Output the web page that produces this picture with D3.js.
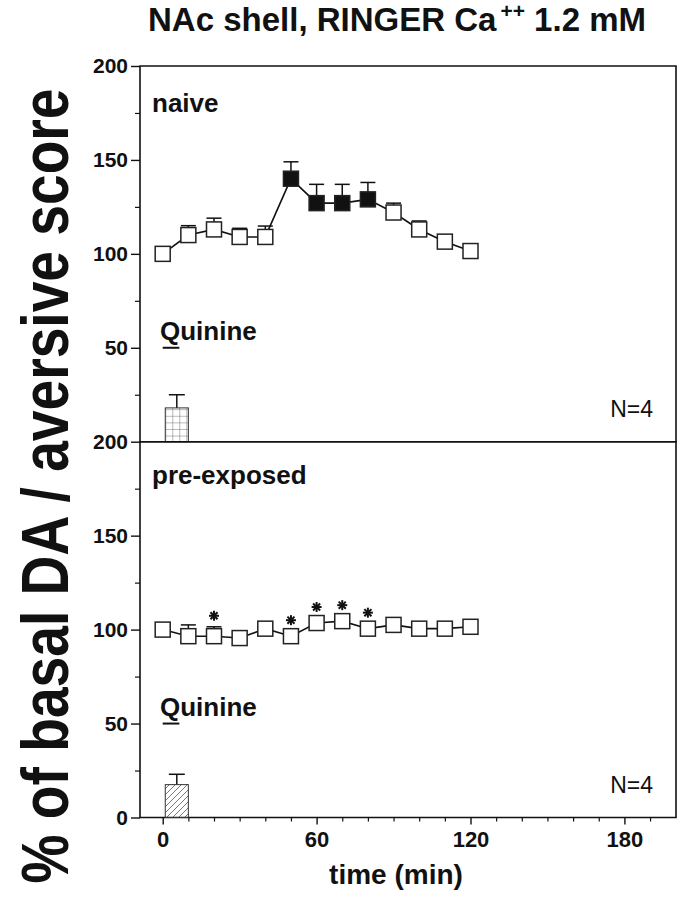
<!DOCTYPE html>
<html>
<head>
<meta charset="utf-8">
<script src="https://cdn.jsdelivr.net/npm/d3@7"></script>
<style>
  html, body { margin: 0; padding: 0; background: #fff; }
  svg { display: block; font-family: "Liberation Sans", Arial, Helvetica, sans-serif; }
</style>
</head>
<body>
<svg id="chart" width="683" height="899"></svg>
<script>
// ---------------- data ----------------
const times = [0, 10, 20, 30, 40, 50, 60, 70, 80, 90, 100, 110, 120];
const naiveMean = [100, 110, 113, 109, 109, 140, 127, 127, 129, 122, 113, 106.5, 101.5];
const naiveSem  = [0, 5, 6, 4.6, 5.8, 9, 10, 10, 9, 5, 4.5, 0, 0];
const naiveFilled = [false, false, false, false, false, true, true, true, true, false, false, false, false];
const preMean = [100, 96.5, 96.5, 95.5, 100.5, 96.5, 103.5, 104.5, 100.5, 102.5, 100.5, 100.5, 101.5];
const preSem  = [0, 6, 5, 0, 0, 0, 0, 0, 0, 0, 0, 0, 0];
const preSignificant = [20, 50, 60, 70, 80];
const aversiveScore = [18, 17.5];      // naive, pre-exposed
const aversiveSem   = [7, 5.5];
const xTickLabels = [0, 60, 120, 180];
const yTickLabelsTop = [50, 100, 150, 200];
const yTickLabelsBottom = [0, 50, 100, 150, 200];
const yMinorTicks = [25, 75, 125, 175];
const panelNames = ["naive", "pre-exposed"];
const nLabels = ["N=4", "N=4"];

// ---------------- layout ----------------
const svg = d3.select("#chart");
const axisX0 = 140, plotRight = 676;
const x = d3.scaleLinear().domain([0, 200]).range([162.7, 675.7]);
const yTop = d3.scaleLinear().domain([0, 200]).range([441.7, 66]);
const yBot = d3.scaleLinear().domain([0, 200]).range([817.5, 441.7]);
const barSpan = [1, 10];       // minutes covered by the aversive score bar
const quinineSpan = [0, 6.5];  // quinine application marker
const sq = 15;

// patterns
const defs = svg.append("defs");
const grid = defs.append("pattern").attr("id", "gridPat")
  .attr("patternUnits", "userSpaceOnUse").attr("width", 7).attr("height", 6.6)
  .attr("x", x(barSpan[0])).attr("y", 0);
grid.append("path").attr("d", "M0,0 V6.6 M0,0 H7")
  .attr("stroke", "#666").attr("stroke-width", 0.9).attr("fill", "none");
const diag = defs.append("pattern").attr("id", "diagPat")
  .attr("patternUnits", "userSpaceOnUse").attr("width", 6).attr("height", 6);
diag.append("path").attr("d", "M-1,1 L1,-1 M0,6 L6,0 M5,7 L7,5")
  .attr("stroke", "#555").attr("stroke-width", 0.8).attr("fill", "none");

// ---------------- title ----------------
const title = svg.append("text").attr("x", 148).attr("y", 31)
  .attr("font-size", 33).attr("font-weight", "bold").attr("fill", "#111");
title.append("tspan").text("NAc shell, RINGER Ca");
title.append("tspan").attr("font-size", 21).attr("dy", -13).attr("dx", 4).text("++");
title.append("tspan").attr("dy", 13).text(" 1.2 mM");

// y axis title (glyphs stretched perpendicular to the baseline, as in the scan)
svg.append("text")
  .attr("transform", "translate(68,486) rotate(-90) scale(1,1.2)")
  .attr("text-anchor", "middle")
  .attr("font-size", 55).attr("font-weight", "bold").attr("fill", "#111")
  .attr("textLength", 795).attr("lengthAdjust", "spacingAndGlyphs")
  .text("% of basal DA / aversive score");

// x axis title
svg.append("text").attr("x", 396).attr("y", 884)
  .attr("text-anchor", "middle").attr("font-size", 28).attr("font-weight", "bold")
  .attr("fill", "#111").text("time (min)");

// ---------------- panels ----------------
function drawPanel(y, mean, sem, filled, idx, showX) {
  const g = svg.append("g");
  const patId = idx === 0 ? "gridPat" : "diagPat";

  // frame
  g.append("path")
    .attr("d", `M${axisX0},${y(200)} H${plotRight} V${y(0)} H${axisX0} Z`)
    .attr("fill", "none").attr("stroke", "#111").attr("stroke-width", 1.6);

  // y axis major ticks + labels
  const yAx = d3.axisLeft(y).tickValues(idx === 0 ? yTickLabelsTop : yTickLabelsBottom)
    .tickSize(9).tickPadding(3).tickSizeOuter(0);
  const ya = g.append("g").attr("transform", `translate(${axisX0},0)`).call(yAx);
  ya.select(".domain").remove();
  ya.selectAll("line").attr("stroke", "#111").attr("stroke-width", 1.4);
  ya.selectAll("text").attr("font-size", 21).attr("font-weight", "bold")
    .attr("fill", "#111").attr("font-family", "Liberation Sans, Arial, sans-serif");
  const yMin = d3.axisLeft(y).tickValues(yMinorTicks).tickSize(5).tickFormat("");
  const ym = g.append("g").attr("transform", `translate(${axisX0},0)`).call(yMin);
  ym.select(".domain").remove();
  ym.selectAll("line").attr("stroke", "#111").attr("stroke-width", 1.2);

  if (showX) {
    const xMinor = d3.range(10, 200, 10).filter(d => !xTickLabels.includes(d));
    const xm = g.append("g").attr("transform", `translate(0,${y(0)})`)
      .call(d3.axisBottom(x).tickValues(xMinor).tickSize(4).tickFormat(""));
    xm.select(".domain").remove();
    xm.selectAll("line").attr("stroke", "#111").attr("stroke-width", 1.2);
    const xa = g.append("g").attr("transform", `translate(0,${y(0)})`)
      .call(d3.axisBottom(x).tickValues(xTickLabels).tickSize(7).tickPadding(7));
    xa.select(".domain").remove();
    xa.selectAll("line").attr("stroke", "#111").attr("stroke-width", 1.4);
    xa.selectAll("text").attr("font-size", 22).attr("font-weight", "bold")
      .attr("fill", "#111").attr("font-family", "Liberation Sans, Arial, sans-serif");
  }

  // panel label
  g.append("text").attr("x", 152).attr("y", y(200) + (idx === 0 ? 46 : 42))
    .attr("font-size", 26).attr("font-weight", "bold").attr("fill", "#111")
    .text(panelNames[idx]);

  // N label
  g.append("text").attr("x", 653).attr("y", y(0) - 25).attr("text-anchor", "end")
    .attr("font-size", 23).attr("fill", "#111").text(nLabels[idx]);

  // quinine label + dash
  g.append("text").attr("x", 160).attr("y", y(50) - 8)
    .attr("font-size", 26).attr("font-weight", "bold").attr("fill", "#111").text("Quinine");
  g.append("line").attr("x1", x(quinineSpan[0])).attr("x2", x(quinineSpan[1]))
    .attr("y1", y(50)).attr("y2", y(50)).attr("stroke", "#111").attr("stroke-width", 2);

  // aversive bar
  const bx0 = x(barSpan[0]), bx1 = x(barSpan[1]), bxc = (bx0 + bx1) / 2;
  const bv = aversiveScore[idx], be = aversiveSem[idx];
  g.append("line").attr("x1", bxc).attr("x2", bxc).attr("y1", y(bv)).attr("y2", y(bv + be))
    .attr("stroke", "#111").attr("stroke-width", 1.5);
  g.append("line").attr("x1", bxc - 8).attr("x2", bxc + 8).attr("y1", y(bv + be)).attr("y2", y(bv + be))
    .attr("stroke", "#111").attr("stroke-width", 1.5);
  g.append("rect").attr("x", bx0).attr("y", y(bv)).attr("width", bx1 - bx0)
    .attr("height", y(0) - y(bv)).attr("fill", `url(#${patId})`)
    .attr("stroke", "#333").attr("stroke-width", 1);

  // error bars
  const eb = g.append("g");
  times.forEach((t, i) => {
    if (!sem[i]) return;
    eb.append("line").attr("x1", x(t)).attr("x2", x(t)).attr("y1", y(mean[i])).attr("y2", y(mean[i] + sem[i]))
      .attr("stroke", "#111").attr("stroke-width", 1.5);
    eb.append("line").attr("x1", x(t) - 7.5).attr("x2", x(t) + 7.5)
      .attr("y1", y(mean[i] + sem[i])).attr("y2", y(mean[i] + sem[i]))
      .attr("stroke", "#111").attr("stroke-width", 1.5);
  });

  // line
  g.append("path").datum(times)
    .attr("d", d3.line().x(t => x(t)).y((t, i) => y(mean[i])))
    .attr("fill", "none").attr("stroke", "#111").attr("stroke-width", 1.6);

  // squares
  g.selectAll("rect.pt").data(times).join("rect").attr("class", "pt")
    .attr("x", t => x(t) - sq / 2).attr("y", (t, i) => y(mean[i]) - sq / 2)
    .attr("width", sq).attr("height", sq)
    .attr("fill", (t, i) => filled && filled[i] ? "#111" : "#fff")
    .attr("stroke", "#222").attr("stroke-width", 1.5);
}

drawPanel(yTop, naiveMean, naiveSem, naiveFilled, 0, false);
drawPanel(yBot, preMean, preSem, null, 1, true);

// significance asterisks
const star = svg.append("g");
preSignificant.forEach(t => {
  const i = times.indexOf(t);
  const cy = Math.min(yBot(preMean[i]) - 16, yBot(preMean[i] + preSem[i]) - 11);
  const cx = x(t);
  [0, 45, 90, 135].forEach(a => {
    const r = 5, rad = a * Math.PI / 180;
    star.append("line")
      .attr("x1", cx - r * Math.cos(rad)).attr("y1", cy - r * Math.sin(rad))
      .attr("x2", cx + r * Math.cos(rad)).attr("y2", cy + r * Math.sin(rad))
      .attr("stroke", "#111").attr("stroke-width", 2);
  });
});
</script>
</body>
</html>
